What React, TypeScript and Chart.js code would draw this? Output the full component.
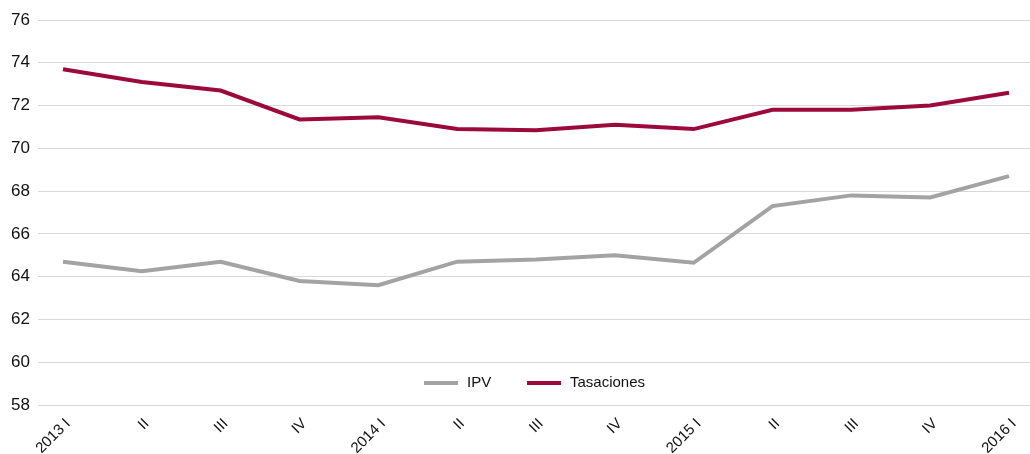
import React, { useEffect, useRef } from "react";
import { Chart, registerables } from "chart.js";

Chart.register(...registerables);

const categories = ["2013 I", "II", "III", "IV", "2014 I", "II", "III", "IV", "2015 I", "II", "III", "IV", "2016 I"];
const ipv = [64.7, 64.25, 64.7, 63.8, 63.6, 64.7, 64.8, 65.0, 64.65, 67.3, 67.8, 67.7, 68.7];
const tasaciones = [73.7, 73.1, 72.7, 71.35, 71.45, 70.9, 70.85, 71.1, 70.9, 71.8, 71.8, 72.0, 72.6];
const yTicks = [58, 60, 62, 64, 66, 68, 70, 72, 74, 76];

const FONT = "'Liberation Sans', Arial, sans-serif";

const legendPlugin = {
  id: "innerLegend",
  afterDraw(chart: any) {
    const ctx = chart.ctx;
    const items = chart.data.datasets;
    const y = 383;
    const starts = [424, 527];
    ctx.save();
    ctx.font = `15px ${FONT}`;
    ctx.textBaseline = "middle";
    items.forEach((ds: any, i: number) => {
      const x = starts[i];
      ctx.strokeStyle = ds.borderColor;
      ctx.lineWidth = 4;
      ctx.lineCap = "butt";
      ctx.beginPath();
      ctx.moveTo(x, y);
      ctx.lineTo(x + 34, y);
      ctx.stroke();
      ctx.fillStyle = "#111";
      ctx.fillText(ds.label, x + 43, y);
    });
    ctx.restore();
  },
};

export default function App() {
  const ref = useRef<HTMLCanvasElement>(null);
  useEffect(() => {
    document.body.style.margin = "0";
    const chart = new Chart(ref.current!, {
      type: "line",
      data: {
        datasets: [
          {
            label: "IPV",
            data: ipv.map((v, i) => ({ x: i, y: v })),
            borderColor: "#a3a3a3",
            borderWidth: 4,
            pointRadius: 0,
            tension: 0,
          },
          {
            label: "Tasaciones",
            data: tasaciones.map((v, i) => ({ x: i, y: v })),
            borderColor: "#9c0a3b",
            borderWidth: 4,
            pointRadius: 0,
            tension: 0,
          },
        ],
      },
      options: {
        animation: false,
        responsive: false,
        layout: { padding: { top: 20, right: 0, left: 0, bottom: 0 } },
        plugins: { legend: { display: false }, tooltip: { enabled: false } },
        scales: {
          x: {
            type: "linear",
            min: -0.317,
            max: 12.266,
            grid: { display: false },
            border: { display: false },
            afterBuildTicks: (scale: any) => {
              scale.ticks = categories.map((_, i) => ({ value: i }));
            },
            afterFit: (scale: any) => {
              scale.height = 49;
            },
            ticks: {
              autoSkip: false,
              minRotation: 45,
              maxRotation: 45,
              padding: 2,
              labelOffset: 5,
              color: "#111",
              font: { family: FONT, size: 15 },
              callback: (v: any) => categories[Math.round(Number(v))] ?? "",
            },
          },
          y: {
            min: 58,
            max: 76,
            afterBuildTicks: (scale: any) => {
              scale.ticks = yTicks.map((v) => ({ value: v }));
            },
            afterFit: (scale: any) => {
              scale.width = 38;
            },
            grid: { color: "#d9d9d9", lineWidth: 1, drawTicks: false },
            border: { display: false },
            ticks: {
              padding: 8,
              color: "#111",
              font: { family: FONT, size: 17 },
            },
          },
        },
      },
      plugins: [legendPlugin],
    } as any);
    return () => chart.destroy();
  }, []);
  return (
    <div style={{ position: "absolute", left: 0, top: 0, width: 1030, height: 454 }}>
      <canvas ref={ref} width={1030} height={454} style={{ width: 1030, height: 454 }} />
    </div>
  );
}
